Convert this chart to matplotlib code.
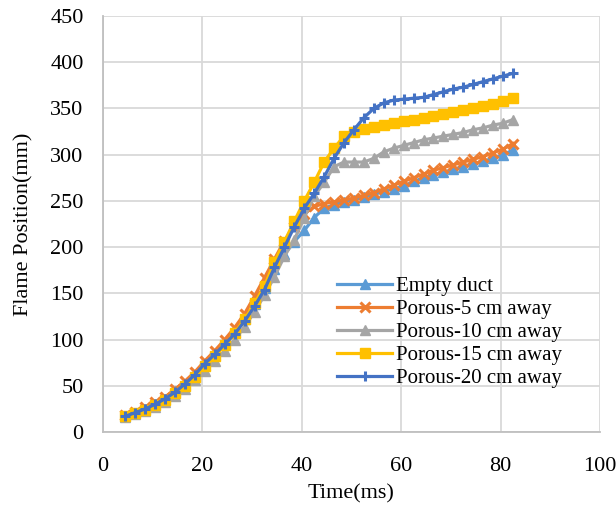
import numpy as np
import matplotlib.pyplot as plt

# time axis: one frame every 2 ms
time_ms = np.arange(40) * 2 + 4.5

empty_duct = [17, 21, 25, 30, 36, 44, 52, 62, 73, 84,
              96, 108, 122, 138, 156, 176, 192, 206, 218, 232,
              242, 246, 249, 251, 254, 257, 260, 263, 266, 271,
              275, 278, 281, 284, 287, 290, 293, 296, 300, 305]
porous_5 = [18, 22, 27, 32, 38, 46, 55, 65, 77, 88,
            100, 113, 128, 147, 167, 187, 207, 222, 236, 244,
            247, 249, 251, 253, 256, 259, 263, 267, 271, 275,
            279, 283, 286, 289, 292, 295, 298, 302, 306, 312]
porous_10 = [16, 19, 23, 27, 32, 39, 47, 56, 66, 77,
             88, 100, 114, 130, 148, 168, 190, 208, 232, 255,
             270, 287, 292, 292, 292, 296, 303, 307, 310, 313,
             316, 318, 320, 322, 324, 327, 329, 332, 334, 338]
porous_15 = [17, 20, 24, 29, 35, 42, 50, 60, 71, 82,
             94, 107, 122, 139, 158, 184, 206, 228, 250, 270,
             292, 307, 320, 325, 328, 330, 332, 334, 336, 338,
             340, 342, 344, 346, 348, 350, 353, 355, 358, 361]
porous_20 = [17, 21, 25, 30, 36, 43, 52, 62, 74, 84,
             95, 106, 120, 136, 154, 178, 200, 222, 242, 258,
             276, 296, 313, 327, 340, 350, 356, 359, 360, 361,
             362, 365, 368, 371, 373, 376, 379, 382, 385, 388]

labels = ["Empty duct", "Porous-5 cm away", "Porous-10 cm away",
          "Porous-15 cm away", "Porous-20 cm away"]
colors = ["#5B9BD5", "#ED7D31", "#A5A5A5", "#FFC000", "#4472C4"]
markers = ["^", "x", "^", "s", "+"]
series = [empty_duct, porous_5, porous_10, porous_15, porous_20]

plt.rcParams["font.family"] = ["Liberation Serif", "DejaVu Serif"]

fig = plt.figure(figsize=(6.16, 5.09), dpi=100)
ax = fig.add_axes([0.1672, 0.1513, 0.8068, 0.8173])

for y, lab, c, m in zip(series, labels, colors, markers):
    mew = 2.2 if m in ("x", "+") else 1.0
    ax.plot(time_ms, y, color=c, lw=2.3, marker=m, markersize=7.5,
            markeredgewidth=mew, markerfacecolor=c, markeredgecolor=c,
            label=lab)

ax.set_xlim(0, 100)
ax.set_ylim(0, 450)
ax.set_xticks(range(0, 101, 20))
ax.set_yticks(range(0, 451, 50))
ax.grid(True, color="#D9D9D9", lw=1.3)
ax.set_axisbelow(True)
for side in ["top", "right"]:
    ax.spines[side].set_visible(False)
for side in ["left", "bottom"]:
    ax.spines[side].set_color("#BFBFBF")
    ax.spines[side].set_linewidth(1.3)
ax.tick_params(length=0, labelsize=16)
ax.tick_params(axis="y", pad=14)
ax.tick_params(axis="x", pad=18)

ax.set_xlabel("Time(ms)", fontsize=16, labelpad=6)
ax.set_ylabel("Flame Position(mm)", fontsize=16, labelpad=12)

ax.legend(loc="lower right", bbox_to_anchor=(0.94, 0.085), frameon=False,
          fontsize=15, handlelength=2.6, handletextpad=0.2,
          labelspacing=0.17, borderaxespad=0)

fig.savefig("out.png", dpi=100)
